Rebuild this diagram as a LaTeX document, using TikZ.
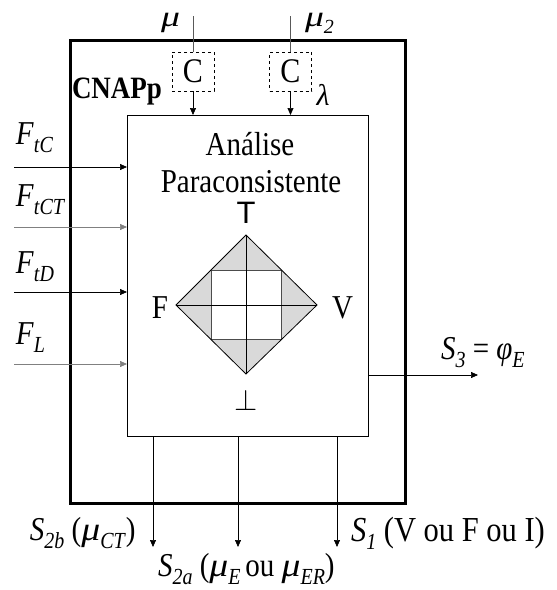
\documentclass[tikz,border=0pt]{standalone}
\usepackage{fontspec}
\usepackage{graphicx}
\setmainfont{Liberation Serif}
\newfontfamily\sansf{Liberation Sans}
\usetikzlibrary{arrows.meta,calc}
\newcommand\tall[1]{\scalebox{1}[1.15]{#1}}
\newcommand\muu{\scalebox{1.3}[1]{\textit{μ}}}
\newcommand\lblsub[2]{\textit{#1}\raisebox{-0.25em}{\fontsize{20}{20}\selectfont\textit{#2}}}
\begin{document}
\begin{tikzpicture}[x=1pt,y=-1pt,
  arr/.style={-{Triangle[length=7pt,width=6pt]}, line width=0.7pt},
  txt/.style={font=\fontsize{29}{31}\selectfont, inner sep=0pt, outer sep=0pt},
  box/.style={draw, inner sep=0pt, outer sep=0pt, anchor=north west},
  cbox/.style={draw, dashed, line width=0.8pt, inner sep=0pt, outer sep=0pt,
     minimum width=42pt, minimum height=39pt, font=\fontsize{30}{30}\selectfont},
  lat/.style={line width=0.8pt}]
\useasboundingbox (0,0) rectangle (557,590);
% boxes
\node[box, line width=3pt, minimum width=335pt, minimum height=463pt] (outer) at (70,40) {};
\node[box, line width=0.9pt, minimum width=241pt, minimum height=321pt] (inner) at (127,115) {};
\node[cbox] (c1) at (193,71.5) {\tall{C}};
\node[cbox] (c2) at (290.5,71.5) {\tall{C}};
% top inputs
\coordinate (m1) at (193,16);
\coordinate (m2) at (290.5,16);
\draw[gray!70!black, line width=0.8pt] (m1) -- (c1.north);
\draw[gray!70!black, line width=0.8pt] (m2) -- (c2.north);
\draw[arr] (c1.south) -- (c1.south |- inner.north);
\draw[arr] (c2.south) -- (c2.south |- inner.north);
\node[txt, anchor=base west, font=\fontsize{29}{29}\selectfont] (mu1) at (161,26) {\muu};
\node[txt, anchor=base west, font=\fontsize{29}{29}\selectfont] (mu2) at (305,26) {\lblsub{\muu}{2}};
\node[txt, anchor=base west, font=\fontsize{27}{27}\selectfont\bfseries] (cnap) at (72,98) {\tall{CNAPp}};
\node[txt, anchor=base, font=\fontsize{30}{30}\selectfont] (lam) at (323,105) {\textit{λ}};
% left inputs
\foreach \n/\yy/\lab/\bl/\col in {a/167/tC/144/black, b/227/tCT/206/gray, c/292/tD/273/black, d/364/L/344/gray}{
  \coordinate (in\n) at (14,\yy);
  \draw[arr, draw=\col] (in\n) -- (in\n -| inner.west);
  \node[txt, anchor=base west] (f\n) at (16,\bl) {\tall{\lblsub{F}{\lab}}};
}
% right output
\coordinate (s3) at (478,375);
\draw[arr] (inner.east |- s3) -- (s3);
\node[txt, anchor=base west] (s3l) at (441,359) {\tall{\lblsub{S}{3} = \lblsub{φ}{E}}};
% bottom outputs
\coordinate (o1) at (153,547);
\coordinate (o2) at (238,547);
\coordinate (o3) at (337,547);
\draw[arr] (o1 |- inner.south) -- (o1);
\draw[arr] (o2 |- inner.south) -- (o2);
\draw[arr] (o3 |- inner.south) -- (o3);
\node[txt, anchor=base west] (s2b) at (30,540) {\tall{\lblsub{S}{2b} (\lblsub{\muu}{CT})}};
\node[txt, anchor=base west] (s2a) at (158,576) {\tall{\lblsub{S}{2a} (\lblsub{\muu}{E}\,ou \lblsub{\muu}{ER})}};
\node[txt, anchor=base west, font=\fontsize{30.5}{31}\selectfont] (s1) at (351,541) {\tall{\lblsub{S}{1} (V ou F ou I)}};
% inner text
\node[txt, anchor=base] (an) at (250,155) {\tall{Análise}};
\node[txt, anchor=base] (pa) at (251,192) {\tall{Paraconsistente}};
\node[txt, anchor=base, font=\fontsize{31}{31}\sansf] (tt) at (246,223) {T};
\node[txt, anchor=base east] (ff) at (168,318) {\tall{F}};
\node[txt, anchor=base west] (vv) at (332,318) {\tall{V}};
\node[txt, anchor=base, font=\fontsize{24.88}{25}\selectfont] (bot) at (246,410) {\scalebox{1.2}{$\perp$}};
% lattice diamond
\coordinate (dt) at (246,235);
\coordinate (dl) at (176,305);
\coordinate (dr) at (317,305);
\coordinate (db) at (246,374);
\fill[gray!30] (dt) -- (dr) -- (db) -- (dl) -- cycle;
\fill[white] (211,270) rectangle (281.5,339.5);
\draw[lat, gray!60!black] (211,270) rectangle (281.5,339.5);
\draw[lat] (dt) -- (db) (dl) -- (dr);
\draw[lat] (dt) -- (dr) -- (db) -- (dl) -- cycle;
\end{tikzpicture}
\end{document}
